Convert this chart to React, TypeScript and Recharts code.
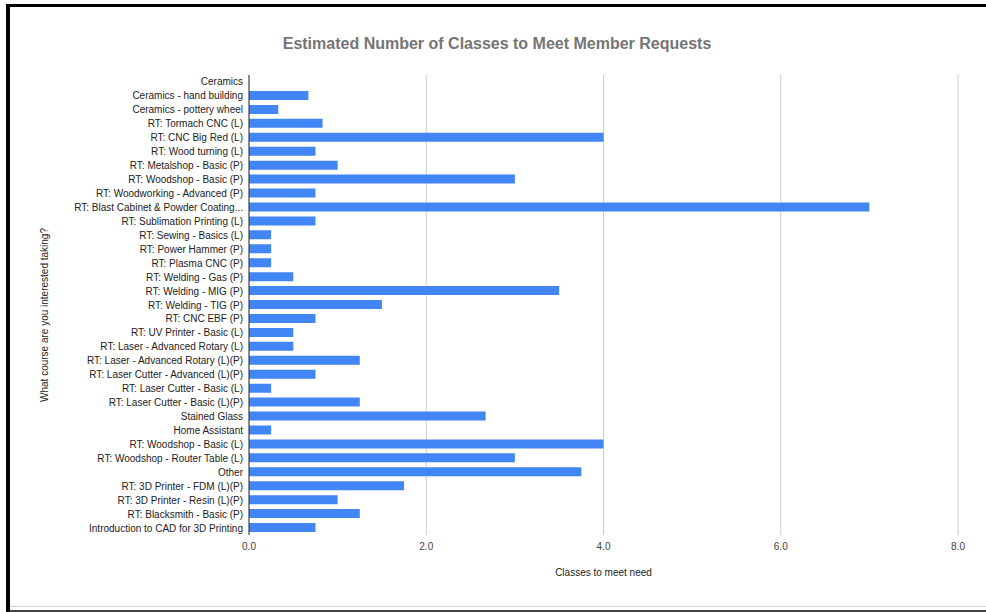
import React from "react";
import { BarChart, Bar, XAxis, YAxis, CartesianGrid } from "recharts";

const categories = [
  "Ceramics",
  "Ceramics - hand building",
  "Ceramics - pottery wheel",
  "RT: Tormach CNC (L)",
  "RT: CNC Big Red (L)",
  "RT: Wood turning (L)",
  "RT: Metalshop - Basic (P)",
  "RT: Woodshop - Basic (P)",
  "RT: Woodworking - Advanced (P)",
  "RT: Blast Cabinet & Powder Coating...",
  "RT: Sublimation Printing (L)",
  "RT: Sewing - Basics (L)",
  "RT: Power Hammer (P)",
  "RT: Plasma CNC (P)",
  "RT: Welding - Gas (P)",
  "RT: Welding - MIG (P)",
  "RT: Welding - TIG (P)",
  "RT: CNC EBF (P)",
  "RT: UV Printer - Basic (L)",
  "RT: Laser - Advanced Rotary (L)",
  "RT: Laser - Advanced Rotary (L)(P)",
  "RT: Laser Cutter - Advanced (L)(P)",
  "RT: Laser Cutter - Basic (L)",
  "RT: Laser Cutter - Basic (L)(P)",
  "Stained Glass",
  "Home Assistant",
  "RT: Woodshop - Basic (L)",
  "RT: Woodshop - Router Table (L)",
  "Other",
  "RT: 3D Printer - FDM (L)(P)",
  "RT: 3D Printer - Resin (L)(P)",
  "RT: Blacksmith - Basic (P)",
  "Introduction to CAD for 3D Printing",
];

const classesNeeded = [
  0, 0.67, 0.33, 0.83, 4.0, 0.75, 1.0, 3.0, 0.75, 7.0, 0.75, 0.25, 0.25, 0.25,
  0.5, 3.5, 1.5, 0.75, 0.5, 0.5, 1.25, 0.75, 0.25, 1.25, 2.67, 0.25, 4.0, 3.0,
  3.75, 1.75, 1.0, 1.25, 0.75,
];

const xTicks = [0, 2, 4, 6, 8];

const title = "Estimated Number of Classes to Meet Member Requests";
const xTitle = "Classes to meet need";
const yTitle = "What course are you interested taking?";

const data = categories.map((c, i) => ({ name: c, value: classesNeeded[i] }));

const FONT = "Arial, 'Liberation Sans', sans-serif";

const CategoryTick = (props: any) => {
  const { x, y, payload } = props;
  return (
    <text
      x={x - 4}
      y={y}
      dy="0.35em"
      textAnchor="end"
      fontSize={10}
      fill="#222"
      fontFamily={FONT}
    >
      {payload.value}
    </text>
  );
};

export default function App() {
  return (
    <div
      style={{
        position: "absolute",
        left: 0,
        top: 0,
        width: 986,
        height: 612,
        background: "#fff",
        overflow: "hidden",
        fontFamily: FONT,
      }}
    >
      <div
        style={{
          position: "absolute",
          left: 6,
          top: 4,
          width: 986,
          height: 620,
          borderTop: "3px solid #000",
          borderLeft: "4px solid #000",
          boxSizing: "border-box",
        }}
      />
      <div
        style={{
          position: "absolute",
          left: 10,
          top: 606,
          width: 986,
          height: 6,
          borderTop: "1px solid #cfcfcf",
          background: "#fff",
          boxSizing: "border-box",
        }}
      >
        <div
          style={{
            position: "absolute",
            left: 0,
            top: 3,
            width: 986,
            height: 2,
            background: "#444",
          }}
        />
      </div>
      <div
        style={{
          position: "absolute",
          left: 0,
          top: 35,
          width: 994,
          textAlign: "center",
          fontSize: 16,
          fontWeight: "bold",
          color: "#757575",
        }}
      >
        {title}
      </div>
      <BarChart
        width={986}
        height={612}
        data={data}
        layout="vertical"
        margin={{ top: 75, right: 28, bottom: 32, left: 9 }}
        barCategoryGap={0}
        style={{ position: "absolute", left: 0, top: 0 }}
      >
        <CartesianGrid
          horizontal={false}
          vertical={true}
          stroke="#cccccc"
          strokeWidth={1}
        />
        <XAxis
          type="number"
          domain={[0, 8]}
          ticks={xTicks}
          tickFormatter={(v: number) => v.toFixed(1)}
          axisLine={false}
          tickLine={false}
          tick={{ fontSize: 10, fill: "#444", fontFamily: FONT }}
          height={45}
        />
        <YAxis
          type="category"
          dataKey="name"
          width={240}
          interval={0}
          axisLine={{ stroke: "#333", strokeWidth: 1 }}
          tickLine={false}
          tickSize={0}
          tick={<CategoryTick />}
        />
        <Bar
          dataKey="value"
          fill="#4285f4"
          barSize={9}
          isAnimationActive={false}
        />
      </BarChart>
      <div
        style={{
          position: "absolute",
          left: 249,
          top: 567,
          width: 709,
          textAlign: "center",
          fontSize: 10,
          color: "#222",
        }}
      >
        {xTitle}
      </div>
      <div
        style={{
          position: "absolute",
          left: 44,
          top: 315,
          width: 0,
          height: 0,
        }}
      >
        <div
          style={{
            position: "absolute",
            left: 0,
            top: 0,
            transform: "translate(-50%, -50%) rotate(-90deg)",
            whiteSpace: "nowrap",
            fontSize: 10,
            color: "#222",
          }}
        >
          {yTitle}
        </div>
      </div>
    </div>
  );
}
